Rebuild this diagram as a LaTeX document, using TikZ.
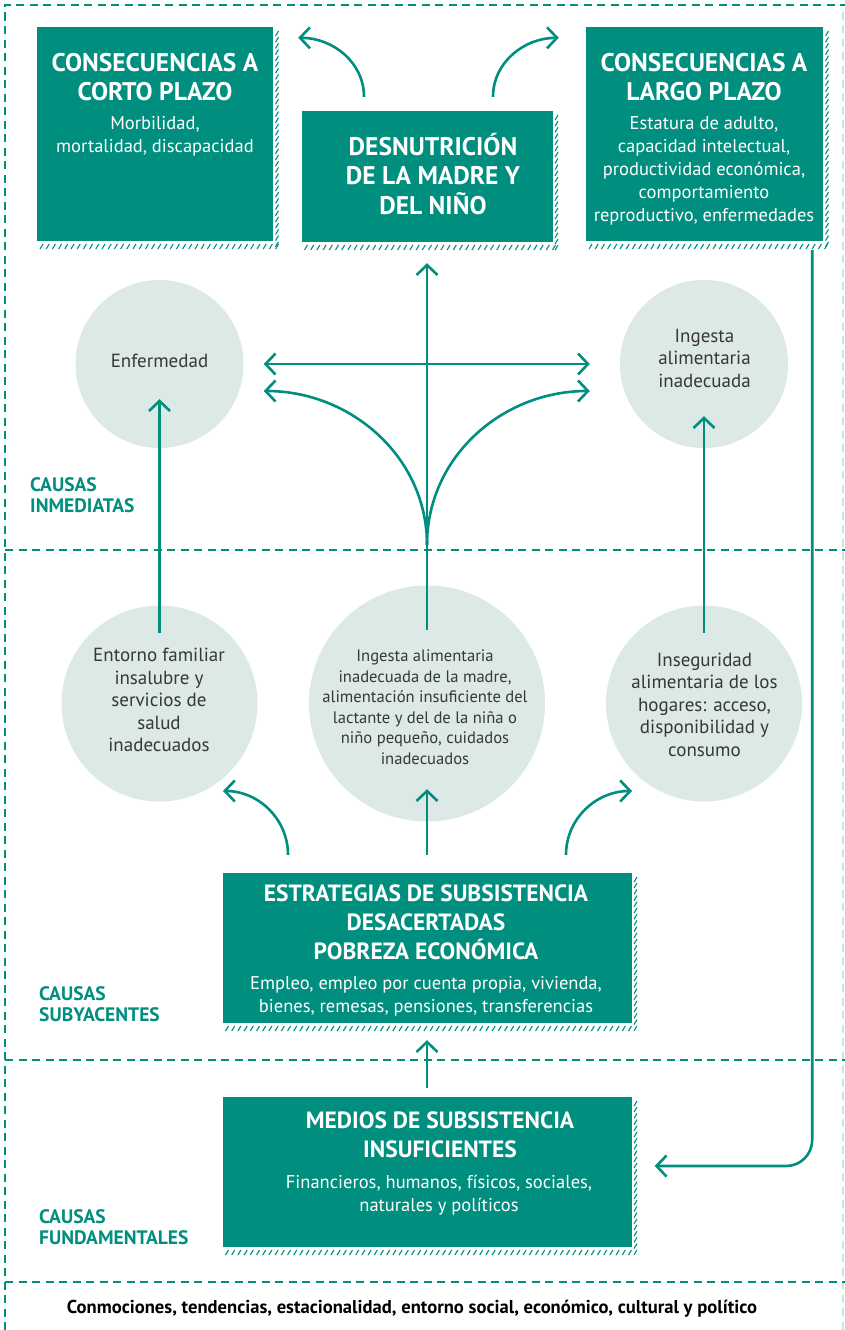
\documentclass[tikz,border=0pt]{standalone}
\usepackage{fontspec}
\setmainfont{PT Sans}
\usetikzlibrary{arrows.meta,calc}
\definecolor{fao}{RGB}{0,142,126}
\definecolor{bubc}{RGB}{220,233,230}
\definecolor{txtc}{RGB}{55,55,55}
\definecolor{framelight}{RGB}{205,228,224}
\newcommand{\hatchsh}[4]{%
  \pgfmathtruncatemacro{\hnb}{(#3-#1)/6.2}%
  \foreach \i in {0,...,\hnb}{\draw[hatchst] ({#1+3+6.2*\i},{#4+8}) -- ++(3,-5);}%
  \pgfmathtruncatemacro{\hnr}{(#4-#2)/6.2}%
  \foreach \i in {0,...,\hnr}{\draw[hatchst] ({#3+2.5},{#2+9+6.2*\i}) -- ++(3,-5);}%
}
\begin{document}
\begin{tikzpicture}[x=1pt,y=-1pt,
  >={Straight Barb[length=10pt,width=21pt]},
  frame/.style={draw=fao, line width=2pt, dash pattern=on 8pt off 5.5pt},
  box/.style={rectangle, fill=fao, draw=none, inner sep=0},
  bub/.style={circle, fill=bubc, draw=none, inner sep=0},
  ttl/.style={text=white, font=\fontsize{25.5}{29}\selectfont\bfseries, align=center, inner sep=0},
  ttlb/.style={ttl, font=\fontsize{23.5}{29}\selectfont\bfseries},
  bdy/.style={text=white, font=\fontsize{18.5}{23}\selectfont, align=center, inner sep=0},
  ctx/.style={text=txtc, font=\fontsize{19}{22.5}\selectfont, align=center, inner sep=0},
  lvl/.style={text=fao, font=\fontsize{19.5}{21}\selectfont\bfseries, align=left, inner sep=0, anchor=west},
  arr/.style={draw=fao, line width=2.6pt, ->},
  hatchst/.style={draw=fao, line width=1.1pt}]
\useasboundingbox (0,0) rectangle (845,1330);
\fill[white] (0,0) rectangle (845,1330);
% frame
\draw[frame] (5,1330) -- (5,5) -- (845,5);
\draw[frame, draw=framelight] (843,12) -- (843,1330);
\draw[frame] (5,550) -- (845,550);
\draw[frame] (5,1060) -- (845,1060);
\draw[frame] (5,1282) -- (845,1282);
% boxes
\node[box, minimum width=236pt, minimum height=214pt] (b1) at (155,134) {};
\node[box, minimum width=251pt, minimum height=131pt] (b2) at (427,176.5) {};
\node[box, minimum width=237pt, minimum height=214pt] (b3) at (704.5,134) {};
\node[box, minimum width=409pt, minimum height=150pt] (b4) at (427,948) {};
\node[box, minimum width=409pt, minimum height=150pt] (b5) at (427,1172) {};
\hatchsh{37}{27}{273}{241}
\hatchsh{301.5}{111}{552.5}{242}
\hatchsh{586}{27}{823}{241}
\hatchsh{222.5}{873}{631.5}{1023}
\hatchsh{222.5}{1097}{631.5}{1247}
% circles
\node[bub, minimum size=168pt] (c1) at (159.5,364) {};
\node[bub, minimum size=168pt] (c2) at (704,364) {};
\node[bub, minimum size=196pt] (c3) at (159.5,703.5) {};
\node[bub, minimum size=236pt] (c4) at (427,703.5) {};
\node[bub, minimum size=196pt] (c5) at (704,703.5) {};
% arrows
\draw[arr] ([xshift=-63pt,yshift=14pt]b2.north) to[out=90,in=0] ([xshift=25pt,yshift=-11pt]b1.north east);
\draw[arr] ([xshift=66pt,yshift=14pt]b2.north) to[out=90,in=180] ([xshift=-27pt,yshift=-11pt]b3.north west);
\draw[arr] ([yshift=73.5pt]c4.center) -- ([yshift=-21pt]b2.south);
\draw[arr, <->] ([xshift=20pt]c1.east) -- ([xshift=-30pt]c2.west);
\coordinate (jn) at ([yshift=40.5pt]c4.north);
\draw[arr] (jn) to[out=90,in=0] ([xshift=20pt,yshift=-27pt]c1.east);
\draw[arr] (jn) to[out=90,in=180] ([xshift=-30pt,yshift=-27pt]c2.west);
\draw[arr] ([yshift=-27.5pt]c3.north) -- ([yshift=49pt]c1.south);
\draw[arr] ([yshift=-27.5pt]c5.north) -- ([yshift=32pt]c2.south);
\draw[arr] ([xshift=-139pt,yshift=18pt]b4.north) to[out=90,in=0] ([xshift=63.5pt,yshift=-87.5pt]c3.center);
\draw[arr] ([xshift=139pt,yshift=18pt]b4.north) to[out=90,in=180] ([xshift=-72pt,yshift=-87.5pt]c5.center);
\draw[arr] ([yshift=18pt]b4.north) -- ([yshift=32.5pt]c4.south);
\draw[arr] ([yshift=9pt]b5.north) -- ([yshift=-17pt]b4.south);
\draw[arr, rounded corners=26pt] ([xshift=-11pt,yshift=-9pt]b3.south east) |- ([xshift=23pt,yshift=6pt]b5.east);
% box texts
\node[ttl] (t1) at (155,77.3) {CONSECUENCIAS A\\CORTO PLAZO};
\node[bdy] (d1) at (155,136) {Morbilidad,\\mortalidad, discapacidad};
\node[ttl, font=\fontsize{25.5}{29.5}\selectfont\bfseries] (t2) at (433,174) {DESNUTRICIÓN\\DE LA MADRE Y\\DEL NIÑO};
\node[ttl] (t3) at (704,77.3) {CONSECUENCIAS A\\LARGO PLAZO};
\node[bdy] (d3) at (704,171) {Estatura de adulto,\\capacidad intelectual,\\productividad económica,\\comportamiento\\reproductivo, enfermedades};
\node[ttlb] (t4) at (426,922.5) {ESTRATEGIAS DE SUBSISTENCIA\\DESACERTADAS\\POBREZA ECONÓMICA};
\node[bdy] (d4) at (426,996) {Empleo, empleo por cuenta propia, vivienda,\\bienes, remesas, pensiones, transferencias};
\node[ttlb] (t5) at (440,1135) {MEDIOS DE SUBSISTENCIA\\INSUFICIENTES};
\node[bdy] (d5) at (439,1195) {Financieros, humanos, físicos, sociales,\\naturales y políticos};
% circle texts
\node[ctx] (x1) at (159.5,361) {Enfermedad};
\node[ctx] (x2) at (704.5,358.4) {Ingesta\\alimentaria\\inadecuada};
\node[ctx] (x3) at (159,699.9) {Entorno familiar\\insalubre y\\servicios de\\salud\\inadecuados};
\node[ctx, font=\fontsize{16.6}{20.6}\selectfont] (x4) at (425,707.3) {Ingesta alimentaria\\inadecuada de la madre,\\alimentación insuficiente del\\lactante y del de la niña o\\niño pequeño, cuidados\\inadecuados};
\node[ctx] (x5) at (704.5,704.4) {Inseguridad\\alimentaria de los\\hogares: acceso,\\disponibilidad y\\consumo};
% level labels
\node[lvl] (l1) at (30,494.7) {CAUSAS\\INMEDIATAS};
\node[lvl] (l2) at (39,1004) {CAUSAS\\SUBYACENTES};
\node[lvl] (l3) at (39,1226.7) {CAUSAS\\FUNDAMENTALES};
\node[anchor=base, inner sep=0, font=\fontsize{18.6}{21}\selectfont\bfseries] (foot) at (412,1313) {Conmociones, tendencias, estacionalidad, entorno social, económico, cultural y político};
\end{tikzpicture}
\end{document}
